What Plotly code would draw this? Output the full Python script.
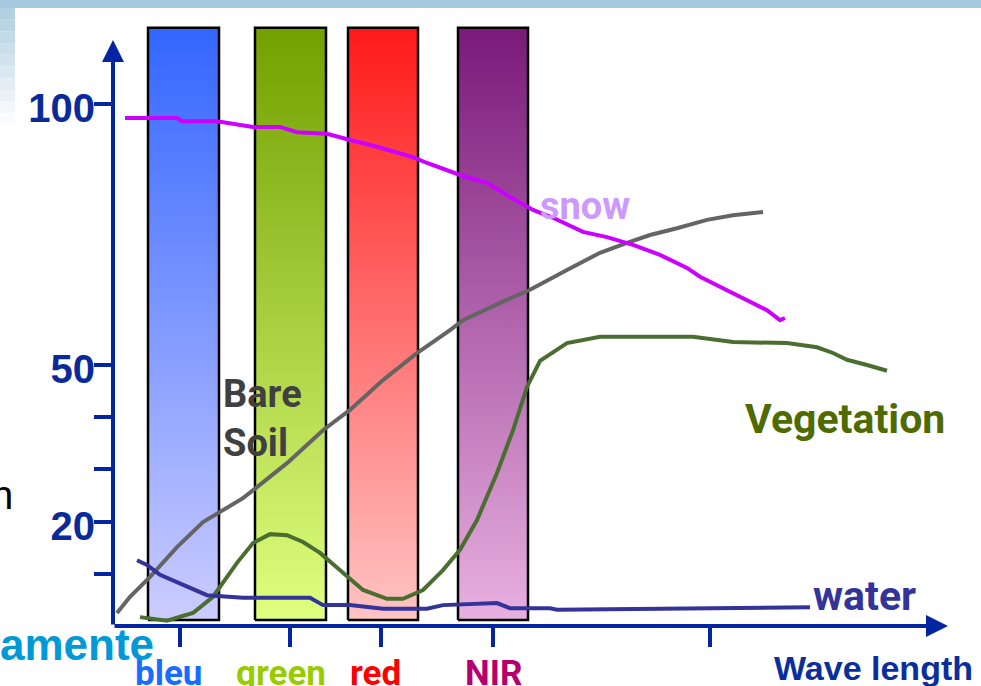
import plotly.graph_objects as go

# ---------------- data ----------------
snow_x = [12, 64, 69, 104, 140, 167, 184, 214, 237, 264, 300, 314, 347, 374, 397, 420, 440, 470, 494, 504, 520, 547, 574, 587, 614, 640, 654, 667, 672]
snow_y = [97.3, 97.3, 96.7, 96.7, 95.6, 95.6, 94.6, 94.3, 93.1, 91.8, 89.8, 88.7, 86.4, 84.9, 82.2, 79.7, 78.2, 75.5, 74.5, 73.9, 73.0, 71.1, 68.6, 66.9, 64.4, 61.9, 60.5, 58.6, 59.0]

soil_x = [4, 17, 37, 64, 90, 107, 130, 144, 174, 210, 237, 270, 304, 337, 350, 387, 417, 454, 487, 514, 537, 564, 594, 620, 650]
soil_y = [2.5, 5.6, 9.4, 15.1, 19.9, 21.8, 24.5, 26.6, 31.2, 37.5, 41.4, 47.1, 52.3, 56.7, 58.6, 61.9, 64.4, 68.2, 71.5, 73.4, 74.9, 76.2, 77.8, 78.7, 79.3]

veg_x = [27, 54, 80, 100, 124, 140, 157, 174, 190, 207, 230, 250, 274, 290, 310, 330, 347, 364, 384, 400, 414, 427, 454, 487, 580, 620, 674, 704, 720, 734, 754, 774]
veg_y = [1.7, 1.0, 2.5, 5.6, 12.1, 15.9, 17.6, 17.4, 16.1, 14.0, 10.2, 6.9, 5.2, 5.2, 6.9, 10.7, 14.6, 20.3, 29.3, 37.5, 45.8, 50.8, 54.2, 55.4, 55.4, 54.4, 54.2, 53.4, 52.3, 51.0, 50.0, 48.9]

water_x = [24, 34, 47, 77, 94, 130, 197, 210, 237, 270, 314, 330, 384, 397, 437, 444, 697]
water_y = [12.6, 11.7, 9.8, 7.3, 5.9, 5.4, 5.4, 4.0, 4.0, 3.3, 3.3, 4.0, 4.4, 3.4, 3.4, 3.1, 3.6]

band_names = ["bleu", "green", "red", "NIR"]
band_left = [35, 142, 235, 345]
band_right = [106, 213, 305, 415]
band_low = [1.15, 1.15, 1.15, 1.15]
band_high = [114.6, 114.6, 114.6, 114.6]
band_label_x = [55, 168, 262, 380]

x_ticks = [67, 177, 268, 380, 597]
y_ticks = [10, 20, 30, 40, 50, 100]
y_ticktext = ["", "20", "", "", "50", "100"]

X_MAX = 835
Y_MAX = 114.94
AXIS_TOP = 112.26

# ---------------- styles ----------------
band_top_colors = ["#3366ff", "#72a000", "#ff1a1a", "#7a1a7a"]
band_bottom_colors = ["#ccccff", "#e0ff80", "#ffc4c4", "#e8b0e0"]
band_label_colors = ["#1a6cff", "#99cc00", "#ff0000", "#b5006e"]
NAVY = "#0324a3"

fig = go.Figure()

for i in range(len(band_names)):
    l, r, lo, hi = band_left[i], band_right[i], band_low[i], band_high[i]
    fig.add_trace(go.Scatter(
        x=[l, r, r, l, l], y=[lo, lo, hi, hi, lo],
        mode="lines", fill="toself",
        fillgradient=dict(type="vertical",
                          colorscale=[[0, band_bottom_colors[i]], [1, band_top_colors[i]]]),
        line=dict(color="black", width=2.5),
        hoverinfo="skip", showlegend=False, name=band_names[i]))

curves = [
    ("Bare Soil", soil_x, soil_y, "#646464"),
    ("Vegetation", veg_x, veg_y, "#4a6e30"),
    ("water", water_x, water_y, "#333399"),
    ("snow", snow_x, snow_y, "#cc00ff"),
]
for name, xs, ys, col in curves:
    fig.add_trace(go.Scatter(x=xs, y=ys, mode="lines", name=name,
                             line=dict(color=col, width=4),
                             showlegend=False))

ann = []
# axis lines with arrows
ann.append(dict(x=0, y=AXIS_TOP, ax=0, ay=0, xref="x", yref="y", axref="x", ayref="y",
                text="", showarrow=True, arrowhead=2, arrowsize=1.1, arrowwidth=4,
                arrowcolor=NAVY))
ann.append(dict(x=X_MAX, y=0, ax=0, ay=0, xref="x", yref="y", axref="x", ayref="y",
                text="", showarrow=True, arrowhead=2, arrowsize=1.1, arrowwidth=4,
                arrowcolor=NAVY))

def py2paper(py):
    return (626 - py) / 600.0

def px2paper(px):
    return (px - 113) / 835.0

LBL_FONT = "Roboto"
for i, name in enumerate(band_names):
    ann.append(dict(x=band_label_x[i], y=py2paper(673), xref="x", yref="paper",
                    text="<b>%s</b>" % name, showarrow=False, xanchor="center", yanchor="middle",
                    font=dict(family=LBL_FONT, size=35, color=band_label_colors[i])))

ann.append(dict(x=px2paper(975), y=py2paper(668), xref="paper", yref="paper",
                text="<b>Wave length</b>", showarrow=False, xanchor="right", yanchor="middle",
                font=dict(family="Liberation Sans", size=34, color="#0a2f9c")))

ann.append(dict(x=425, y=(626 - 206) / 5.22, xref="x", yref="y", text="<b>snow</b>",
                showarrow=False, xanchor="left", yanchor="middle",
                font=dict(family=LBL_FONT, size=38, color="#cc99ff")))
ann.append(dict(x=698, y=(626 - 596) / 5.22, xref="x", yref="y", text="<b>water</b>",
                showarrow=False, xanchor="left", yanchor="middle",
                font=dict(family=LBL_FONT, size=41, color="#333399")))
ann.append(dict(x=630, y=(626 - 419) / 5.22, xref="x", yref="y", text="<b>Vegetation</b>",
                showarrow=False, xanchor="left", yanchor="middle",
                font=dict(family=LBL_FONT, size=41, color="#4f6b00")))
ann.append(dict(x=108, y=(626 - 418) / 5.22, xref="x", yref="y", text="<b>Bare<br>Soil</b>",
                showarrow=False, xanchor="left", yanchor="middle", align="left",
                font=dict(family=LBL_FONT, size=38, color="#404040")))

# slide fragments at the left edge
ann.append(dict(x=px2paper(-2), y=py2paper(644), xref="paper", yref="paper",
                text="<b>amente</b>", showarrow=False, xanchor="left", yanchor="middle",
                font=dict(family="Liberation Sans", size=44, color="#0099d8")))
ann.append(dict(x=px2paper(15), y=py2paper(495), xref="paper", yref="paper",
                text="n", showarrow=False, xanchor="right", yanchor="middle",
                font=dict(family="Liberation Sans", size=40, color="black")))

shapes = []
# top band of the slide
shapes.append(dict(type="rect", xref="paper", yref="paper",
                   x0=px2paper(0), x1=px2paper(981), y0=py2paper(8), y1=py2paper(0),
                   fillcolor="#a6c9e0", line=dict(width=0), layer="above"))
# left fading column
steps = ["#b3d0e2", "#bad4e5", "#c2d9e8", "#cadeeb", "#d2e3ee", "#dae8f1", "#e2edf4", "#eaf2f7", "#f2f7fa", "#f9fbfd"]
n = len(steps)
for k, c in enumerate(steps):
    y0 = 8 + k * (117 / n)
    y1 = 8 + (k + 1) * (117 / n)
    shapes.append(dict(type="rect", xref="paper", yref="paper",
                       x0=px2paper(0), x1=px2paper(15), y0=py2paper(y1), y1=py2paper(y0),
                       fillcolor=c, line=dict(width=0), layer="above"))

fig.update_layout(
    width=981, height=686,
    margin=dict(l=113, r=33, t=26, b=60, autoexpand=False),
    paper_bgcolor="white", plot_bgcolor="white",
    showlegend=False,
    annotations=ann, shapes=shapes,
    xaxis=dict(range=[0, X_MAX], showgrid=False, zeroline=False, showline=False,
               tickvals=x_ticks, ticktext=[""] * len(x_ticks), ticks="outside",
               ticklen=20, tickwidth=4, tickcolor=NAVY, automargin=False, fixedrange=True),
    yaxis=dict(range=[0, Y_MAX], showgrid=False, zeroline=False, showline=False,
               tickvals=y_ticks, ticktext=y_ticktext, ticks="outside",
               ticklen=18, tickwidth=4, tickcolor=NAVY, automargin=False,
               ticklabelstandoff=-9, ticklabelshift=4,
               tickfont=dict(family="Liberation Sans", size=40, color="#0a2a9a", weight="bold"),
               fixedrange=True),
)

fig.write_html("out.html", config={"displayModeBar": False},
               post_script="document.body.style.margin='0';document.body.style.overflow='hidden';")
